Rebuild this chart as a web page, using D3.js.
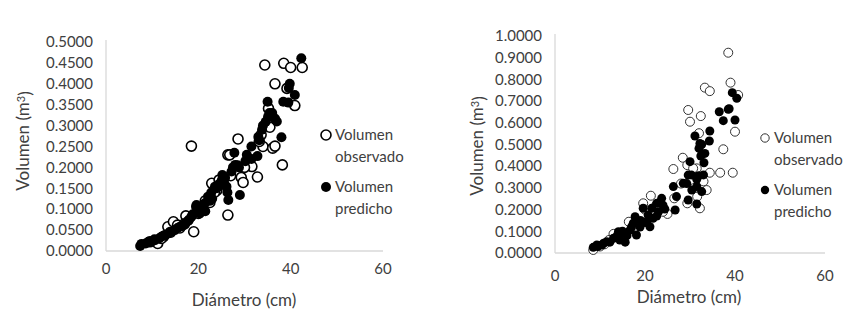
<!DOCTYPE html>
<html>
<head>
<meta charset="utf-8">
<script src="https://cdn.jsdelivr.net/npm/d3@7"></script>
<style>
  body { margin: 0; background: #fff; }
  svg { font-family: Lato, "Open Sans", sans-serif; }
</style>
</head>
<body>
<div id="chart"></div>
<script>
// Left panel: diameter (cm), volume (m3)
const leftObsD = [34.4, 38.5, 40.0, 42.5, 36.6, 39.2, 40.9, 35.2, 18.5, 28.6, 26.4, 33.6, 34.0, 36.1, 36.6, 38.2,
  32.8, 31.6, 29.3, 29.7, 22.9, 24.5, 26.4, 19.0, 17.3, 13.4, 14.6, 11.2, 22.5, 35.5, 26.8, 20.5, 16.0, 9.5, 12.5, 15.5, 21.5, 24.0,
  12.0, 14.0, 17.0, 20.0, 23.5, 25.5, 27.0, 30.0, 33.2, 35.5];
const leftObsV = [0.445, 0.449, 0.439, 0.439, 0.400, 0.389, 0.348, 0.341, 0.251, 0.268, 0.230, 0.278, 0.250, 0.246, 0.251, 0.206,
  0.177, 0.202, 0.176, 0.164, 0.162, 0.170, 0.086, 0.046, 0.084, 0.058, 0.070, 0.018, 0.116, 0.296, 0.230, 0.100, 0.055, 0.022, 0.035, 0.062, 0.120, 0.145,
  0.030, 0.045, 0.065, 0.090, 0.140, 0.160, 0.180, 0.200, 0.262, 0.320];
const leftPredD = [42.3, 39.8, 39.6, 40.9, 38.4, 39.5, 35.0, 35.1, 36.6, 35.4, 34.6, 38.0, 33.0, 33.2, 31.5, 32.8, 31.5, 27.8,
  28.0, 28.5, 28.8, 27.2, 25.2, 25.1, 26.1, 26.5, 26.3, 29.0, 23.6, 22.1, 21.4, 19.6, 19.5, 20.3, 21.5, 18.5, 17.1, 16.0,
  14.9, 13.5, 12.0, 10.6, 9.2, 7.7, 7.4, 24.0, 22.8, 30.2, 33.8, 18.0, 15.5, 11.5, 8.6,
  9.8, 10.5, 12.8, 14.2, 16.5, 17.8, 18.8, 20.8, 22.5, 23.0, 24.5, 25.8, 27.5, 30.5, 34.0, 36.0, 37.0];
const leftPredV = [0.461, 0.400, 0.390, 0.373, 0.357, 0.355, 0.357, 0.321, 0.317, 0.330, 0.309, 0.272, 0.273, 0.265, 0.250, 0.227, 0.220, 0.235,
  0.206, 0.205, 0.200, 0.190, 0.182, 0.170, 0.154, 0.122, 0.140, 0.134, 0.154, 0.130, 0.114, 0.110, 0.106, 0.090, 0.095, 0.082, 0.066, 0.058,
  0.050, 0.042, 0.034, 0.026, 0.022, 0.017, 0.012, 0.150, 0.140, 0.215, 0.290, 0.075, 0.055, 0.030, 0.018,
  0.022, 0.028, 0.038, 0.046, 0.060, 0.072, 0.088, 0.100, 0.120, 0.125, 0.160, 0.175, 0.200, 0.230, 0.300, 0.330, 0.310];

// Right panel
const rightObsD = [38.5, 39.0, 33.3, 34.4, 29.6, 30.0, 32.4, 40.0, 32.0, 37.4, 28.4, 26.3, 29.4, 31.5, 34.4, 36.7, 39.5,
  33.7, 26.5, 29.4, 32.2, 31.6, 21.3, 19.6, 16.4, 13.0, 8.5, 40.7, 32.2, 30.7, 23.0, 18.0, 11.0, 15.0, 25.0,
  10.0, 12.0, 14.5, 17.5, 20.0, 22.5, 24.0, 28.0, 31.0, 33.0];
const rightObsV = [0.923, 0.785, 0.762, 0.746, 0.659, 0.605, 0.631, 0.559, 0.552, 0.478, 0.439, 0.387, 0.405, 0.390, 0.370, 0.370, 0.370,
  0.290, 0.252, 0.229, 0.206, 0.260, 0.264, 0.229, 0.144, 0.088, 0.014, 0.728, 0.336, 0.390, 0.200, 0.120, 0.040, 0.070, 0.180,
  0.030, 0.060, 0.090, 0.130, 0.200, 0.220, 0.190, 0.320, 0.300, 0.330];
const rightPredD = [39.4, 40.4, 36.5, 38.5, 38.7, 37.4, 40.0, 31.1, 34.4, 34.3, 32.2, 32.0, 32.6, 33.3, 32.4, 33.1, 30.0, 29.6,
  28.5, 29.3, 31.9, 31.5, 30.4, 32.6, 29.6, 31.5, 26.3, 26.7, 24.4, 23.7, 22.6, 21.5, 19.6, 20.7, 22.6, 21.1, 17.8, 17.4, 16.7,
  15.2, 14.1, 14.4, 13.0, 11.5, 10.4, 9.3, 8.5, 15.6, 18.1, 18.9, 20.4,
  9.5, 10.8, 12.2, 13.8, 15.0, 16.0, 17.0, 19.0, 20.0, 21.8, 23.0, 24.0, 27.0, 30.3, 31.5, 33.0];
const rightPredV = [0.739, 0.713, 0.651, 0.662, 0.665, 0.610, 0.613, 0.539, 0.562, 0.516, 0.505, 0.482, 0.500, 0.459, 0.447, 0.416, 0.421, 0.359,
  0.321, 0.320, 0.356, 0.306, 0.290, 0.283, 0.244, 0.226, 0.306, 0.198, 0.203, 0.252, 0.229, 0.206, 0.206, 0.175, 0.170, 0.121, 0.167, 0.137, 0.106,
  0.091, 0.098, 0.060, 0.068, 0.052, 0.037, 0.037, 0.026, 0.050, 0.083, 0.120, 0.145,
  0.030, 0.045, 0.050, 0.080, 0.100, 0.080, 0.120, 0.150, 0.140, 0.160, 0.190, 0.220, 0.260, 0.360, 0.340, 0.360];

const xTicks = [0, 20, 40, 60];
const leftYTicks = d3.range(0, 0.5001, 0.05);
const rightYTicks = d3.range(0, 1.0001, 0.1);
const legendLabels = [["Volumen", "observado"], ["Volumen", "predicho"]];

const textColor = "#404040";
const svg = d3.select("#chart").append("svg").attr("width", 855).attr("height", 317);

function panel(cfg) {
  const x = d3.scaleLinear().domain([0, 60]).range(cfg.xr);
  const y = d3.scaleLinear().domain(cfg.yd).range(cfg.yr);
  const g = svg.append("g");
  g.append("line").attr("x1", x(0)).attr("x2", x(60)).attr("y1", y(0)).attr("y2", y(0))
    .attr("stroke", "#d9d9d9").attr("stroke-width", 1.3);
  g.append("line").attr("x1", x(0)).attr("x2", x(0)).attr("y1", y(0)).attr("y2", cfg.yTop)
    .attr("stroke", "#d9d9d9").attr("stroke-width", 1.3);
  g.selectAll(".yt").data(cfg.yTicks).join("text")
    .attr("x", x(0) - 13).attr("y", d => y(d)).attr("dy", "0.35em")
    .attr("text-anchor", "end").attr("font-size", 15).attr("fill", textColor)
    .text(d3.format(".4f"));
  g.selectAll(".xt").data(xTicks).join("text")
    .attr("x", d => x(d)).attr("y", cfg.xTickY).attr("dy", "0.35em")
    .attr("text-anchor", "middle").attr("font-size", 15).attr("fill", textColor)
    .text(d => d);
  g.append("text").attr("x", cfg.xTitle[0]).attr("y", cfg.xTitle[1]).attr("dy", "0.35em")
    .attr("text-anchor", "middle").attr("font-size", 17).attr("fill", textColor).text("Diámetro (cm)");
  const yt = g.append("text").attr("transform", `translate(${cfg.yTitle[0]},${cfg.yTitle[1]}) rotate(-90)`)
    .attr("dy", "0.35em").attr("text-anchor", "middle").attr("font-size", 17).attr("fill", textColor);
  yt.append("tspan").text("Volumen (m");
  yt.append("tspan").attr("dy", "-0.4em").attr("font-size", 11).text("3");
  yt.append("tspan").attr("dy", "0.4em").text(")");

  g.selectAll(".obs").data(cfg.obsD).join("circle")
    .attr("cx", d => x(d)).attr("cy", (d, i) => y(cfg.obsV[i])).attr("r", cfg.r)
    .attr("fill", "#fff").attr("stroke", cfg.obsStroke).attr("stroke-width", cfg.sw);
  g.selectAll(".pred").data(cfg.predD).join("circle")
    .attr("cx", d => x(d)).attr("cy", (d, i) => y(cfg.predV[i])).attr("r", cfg.r)
    .attr("fill", "#000");

  // legend
  const lg = g.append("g").attr("transform", `translate(${cfg.leg[0]},${cfg.leg[1]})`);
  legendLabels.forEach((lab, i) => {
    const yy = i * cfg.legGap;
    lg.append("circle").attr("cx", 0).attr("cy", yy).attr("r", cfg.legR)
      .attr("fill", i ? "#000" : "#fff").attr("stroke", i ? "none" : cfg.obsStroke).attr("stroke-width", cfg.sw);
    lg.append("text").attr("x", 9).attr("y", yy).attr("dy", "0.35em").attr("font-size", 15).attr("fill", textColor).text(lab[0]);
    lg.append("text").attr("x", 9).attr("y", yy + 22).attr("dy", "0.35em").attr("font-size", 15).attr("fill", textColor).text(lab[1]);
  });
}

panel({ xr: [106, 383], yd: [0, 0.5], yr: [251, 42], yTop: 40, yTicks: leftYTicks, xTickY: 269,
  xTitle: [244, 300], yTitle: [23, 141], obsD: leftObsD, obsV: leftObsV, predD: leftPredD, predV: leftPredV,
  r: 5, sw: 1.6, obsStroke: "#000", leg: [326, 135], legGap: 52, legR: 5 });
panel({ xr: [555, 825], yd: [0, 1], yr: [253, 36], yTop: 34, yTicks: rightYTicks, xTickY: 276,
  xTitle: [689, 297], yTitle: [477, 146], obsD: rightObsD, obsV: rightObsV, predD: rightPredD, predV: rightPredV,
  r: 4.5, sw: 1, obsStroke: "#333", leg: [765, 138], legGap: 52, legR: 4.2 });
</script>
</body>
</html>
